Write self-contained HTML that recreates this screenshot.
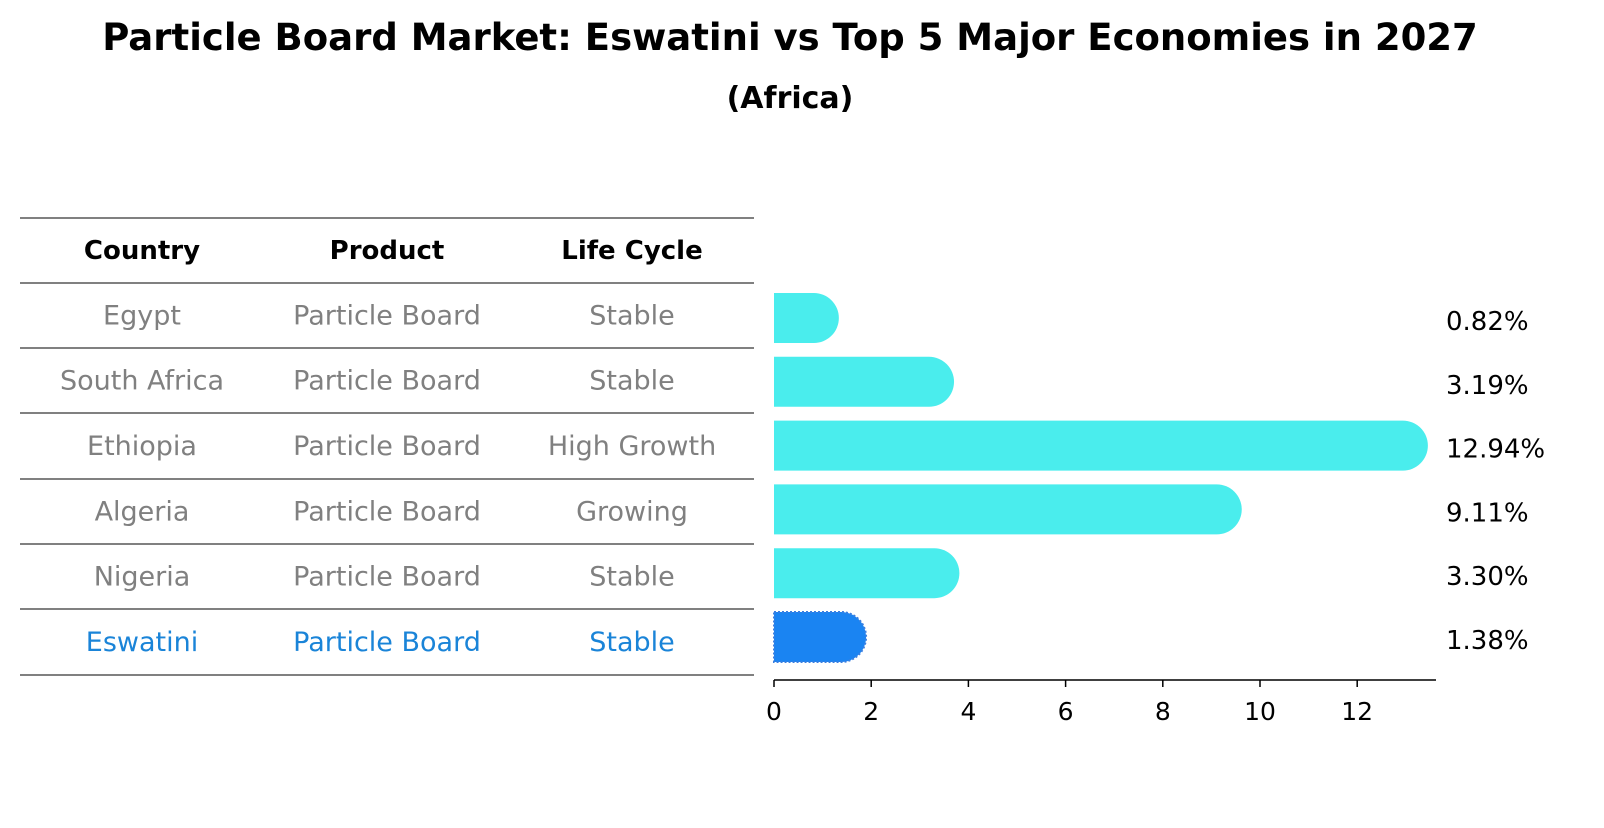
<!DOCTYPE html>
<html><head><meta charset="utf-8"><style>
body{margin:0;background:#fff;font-family:"Liberation Sans","DejaVu Sans",sans-serif}
</style></head><body>
<svg id="c" width="1604" height="823" xmlns="http://www.w3.org/2000/svg" font-family="DejaVu Sans, Liberation Sans, sans-serif">
<text x="790" y="50" text-anchor="middle" font-size="37" font-weight="bold">Particle Board Market: Eswatini vs Top 5 Major Economies in 2027</text>
<text x="790" y="108" text-anchor="middle" font-size="30" font-weight="bold">(Africa)</text>
<g id="table"></g>
<g id="bars"></g>
<g id="axis"></g>
</svg>
<script>
const countries=["Egypt","South Africa","Ethiopia","Algeria","Nigeria","Eswatini"];
const products=["Particle Board","Particle Board","Particle Board","Particle Board","Particle Board","Particle Board"];
const stages=["Stable","Stable","High Growth","Growing","Stable","Stable"];
const values=[0.82,3.19,12.94,9.11,3.30,1.38];
const ticks=[0,2,4,6,8,10,12];
const NS="http://www.w3.org/2000/svg";
function mk(t,a,p,txt){const e=document.createElementNS(NS,t);for(const k in a)e.setAttribute(k,a[k]);if(txt!==undefined)e.textContent=txt;p.appendChild(e);return e;}
const x=v=>774+v*48.6;
const rowY=i=>318+i*63.8;
const tb=document.getElementById('table'),bg=document.getElementById('bars'),ax=document.getElementById('axis');
const lines=[218,283,348,413,479,544,609,675];
lines.forEach((ly,i)=>{const l=mk('line',{x1:20,x2:754,y1:ly,y2:ly,stroke:'#000','stroke-width':1},tb);

});
const colX=[142,387,632];
["Country","Product","Life Cycle"].forEach((h,j)=>{const t=mk('text',{x:colX[j],y:259,'text-anchor':'middle','font-size':26,'font-weight':'bold'},tb,h);

});
countries.forEach((c,i)=>{
 const last=i===countries.length-1;const col=last?'#1a84d8':'#808080';
 [c,products[i],stages[i]].forEach((v,j)=>{const t=mk('text',{x:colX[j],y:(lines[i+1]+lines[i+2])/2+9,'text-anchor':'middle','font-size':27,fill:col},tb,v);
 
 });
 const cy=rowY(i),h=50,r=25,x0=x(0),x1=x(values[i]);
 const p=mk('path',{d:`M${x0},${cy-h/2} L${x1},${cy-h/2} A${r},${r} 0 0 1 ${x1},${cy+h/2} L${x0},${cy+h/2} Z`,fill:last?'#1a84f2':'#4aeded'},bg);
 if(last){p.setAttribute('stroke','#3a7fe0');p.setAttribute('stroke-dasharray','2,2');p.setAttribute('stroke-width','2');}
 
 
 const t=mk('text',{x:1446,y:cy+12,'font-size':26},bg,values[i].toFixed(2)+'%');
 
 
});
const al=mk('line',{x1:774,x2:1436,y1:680,y2:680,stroke:'#000','stroke-width':1.5},ax);


ticks.forEach(v=>{const l=mk('line',{x1:x(v),x2:x(v),y1:680,y2:687,stroke:'#000','stroke-width':1.5},ax);


const t=mk('text',{x:x(v),y:720,'text-anchor':'middle','font-size':25},ax,v);

});
</script>
</body></html>
